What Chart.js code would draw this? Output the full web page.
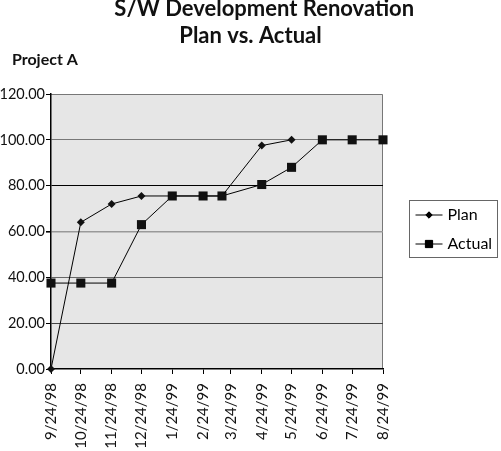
<!DOCTYPE html>
<html>
<head>
<meta charset="utf-8">
<script src="https://cdn.jsdelivr.net/npm/chart.js@4/dist/chart.umd.min.js"></script>
<style>
  html, body { margin: 0; padding: 0; background: #fff; }
  #wrap { width: 501px; height: 451px; }
</style>
</head>
<body>
<div id="wrap"><canvas id="chart"></canvas></div>
<script>
// tick dates on the x axis
const tickDates = ["9/24/98","10/24/98","11/24/98","12/24/98","1/24/99","2/24/99",
                   "3/24/99","4/24/99","5/24/99","6/24/99","7/24/99","8/24/99"];

// Plan series
const planDates  = ["9/24/98","10/24/98","11/24/98","12/24/98","1/24/99","2/24/99","3/15/99","4/24/99","5/24/99"];
const planValues = [0, 64, 72, 75.5, 75.5, 75.5, 75.5, 97.5, 100];

// Actual series
const actualDates  = ["9/24/98","10/24/98","11/24/98","12/24/98","1/24/99","2/24/99","3/15/99",
                      "4/24/99","5/24/99","6/24/99","7/24/99","8/24/99"];
const actualValues = [37.5, 37.5, 37.5, 63, 75.5, 75.5, 75.5, 80.5, 88, 100, 100, 100];

// days since the first tick date
function dayIndex(s) {
  const [m, d, y] = s.split("/").map(Number);
  return Math.round((Date.UTC(1900 + y, m - 1, d) - Date.UTC(1998, 8, 24)) / 86400000);
}
const toPoints = (dates, vals) => dates.map((s, i) => ({ x: dayIndex(s), y: vals[i] }));

const FONT = "Lato, 'Open Sans', sans-serif";

// grey plot area with its frame
const plotBg = {
  id: "plotBg",
  beforeDraw(chart) {
    const { ctx, chartArea: a } = chart;
    ctx.save();
    ctx.fillStyle = "#e6e6e6";
    ctx.fillRect(a.left, a.top, a.right - a.left, a.bottom - a.top);
    ctx.strokeStyle = "#777";
    ctx.lineWidth = 1;
    ctx.beginPath();
    ctx.moveTo(a.left, a.top + 0.5);
    ctx.lineTo(a.right - 0.5, a.top + 0.5);
    ctx.lineTo(a.right - 0.5, a.bottom);
    ctx.stroke();
    ctx.restore();
  }
};

// boxed legend with line + marker samples
const boxLegend = {
  id: "boxLegend",
  afterDraw(chart) {
    const { ctx, chartArea: a } = chart;
    const x0 = a.right + 26.5, y0 = 200.5, w = 88, h = 57;
    ctx.save();
    ctx.fillStyle = "#fff";
    ctx.fillRect(x0, y0, w, h);
    ctx.strokeStyle = "#666";
    ctx.lineWidth = 1;
    ctx.strokeRect(x0, y0, w, h);
    chart.data.datasets.forEach((ds, i) => {
      const cy = y0 + 14.5 + i * 29;
      ctx.strokeStyle = "#000";
      ctx.beginPath();
      ctx.moveTo(x0 + 6, cy);
      ctx.lineTo(x0 + 33, cy);
      ctx.stroke();
      ctx.fillStyle = "#000";
      Chart.helpers.drawPoint(ctx, { pointStyle: ds.pointStyle, radius: ds.pointRadius * 0.8, borderWidth: 1 }, x0 + 19.5, cy);
      ctx.fill();
      ctx.font = "16px " + FONT;
      ctx.textBaseline = "middle";
      ctx.fillText(ds.label, x0 + 38, cy);
    });
    ctx.restore();
  }
};

// grid line colours by value, like the scanned original
const gridColor = {20: "#444", 40: "#666", 60: "#999", 80: "#000", 100: "#777"};

new Chart(document.getElementById("chart"), {
  type: "line",
  data: {
    datasets: [{
      label: "Plan",
      data: toPoints(planDates, planValues),
      borderColor: "#000",
      backgroundColor: "#111",
      borderWidth: 1,
      pointStyle: "rectRot",
      pointRadius: 4,
      pointBorderWidth: 0,
      clip: false
    }, {
      label: "Actual",
      data: toPoints(actualDates, actualValues),
      borderColor: "#000",
      backgroundColor: "#111",
      borderWidth: 1,
      pointStyle: "rect",
      pointRadius: 6.4,
      pointBorderWidth: 0,
      clip: false
    }]
  },
  options: {
    responsive: true,
    maintainAspectRatio: false,
    animation: false,
    events: [],
    layout: { padding: 0 },
    plugins: {
      legend: { display: false },
      tooltip: { enabled: false },
      title: {
        display: true,
        text: ["\u2003\u2002S/W Development Renovation", "Plan vs. Actual"],
        color: "#111",
        font: { family: FONT, size: 22, weight: "bold", lineHeight: 1.25 },
        padding: { top: -5, bottom: 0 }
      },
      subtitle: {
        display: true,
        text: "\u2002 Project A",
        align: "start",
        color: "#111",
        font: { family: FONT, size: 16, weight: "bold", lineHeight: 1.2 },
        padding: { top: 0, bottom: 24.8 }
      }
    },
    scales: {
      x: {
        type: "linear",
        min: dayIndex(tickDates[0]),
        max: dayIndex(tickDates[tickDates.length - 1]),
        afterBuildTicks(scale) {
          scale.ticks = tickDates.map(s => ({ value: dayIndex(s) }));
        },
        afterFit(scale) { scale.height = 82; },
        ticks: {
          autoSkip: false,
          minRotation: 90,
          maxRotation: 90,
          color: "#111",
          font: { family: FONT, size: 15 },
          padding: 9,
          callback(v) {
            const i = tickDates.findIndex(s => dayIndex(s) === v);
            return i >= 0 ? tickDates[i] : "";
          }
        },
        grid: { drawOnChartArea: false, tickLength: 5, tickColor: "#000", lineWidth: 1 },
        border: { color: "#000", width: 1.5 }
      },
      y: {
        min: 0,
        max: 120,
        afterFit(scale) { scale.width = 51; },
        ticks: {
          stepSize: 20,
          color: "#111",
          font: { family: FONT, size: 14.5 },
          padding: 1,
          callback: v => v.toFixed(2)
        },
        grid: {
          color: c => gridColor[c.tick.value] || "rgba(0,0,0,0)",
          lineWidth: c => (c.tick.value === 60 ? 1.6 : 1),
          tickColor: "#000",
          tickLength: 5
        },
        border: { color: "#000", width: 1.5 }
      },
      // empty right-hand axis that keeps room for the legend box
      legendSpace: {
        position: "right",
        min: 0,
        max: 1,
        afterFit(scale) { scale.width = 118; },
        ticks: { display: false },
        grid: { display: false },
        border: { display: false }
      }
    }
  },
  plugins: [plotBg, boxLegend]
});
</script>
</body>
</html>
